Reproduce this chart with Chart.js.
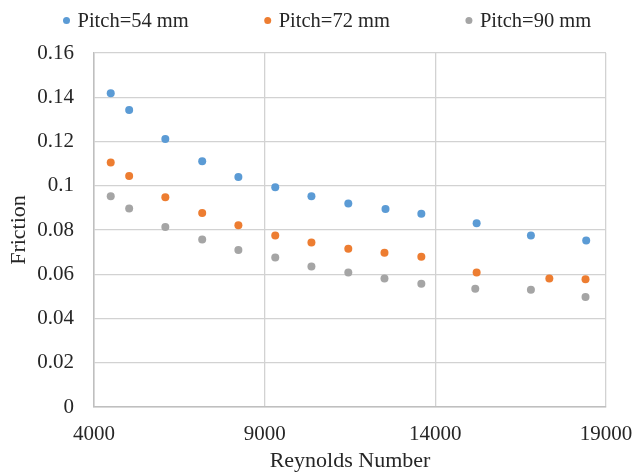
<!DOCTYPE html>
<html>
<head>
<meta charset="utf-8">
<script src="https://cdn.jsdelivr.net/npm/chart.js@4.4.1/dist/chart.umd.min.js"></script>
<style>
  body { margin: 0; background: #ffffff; }
  #wrap { width: 637px; height: 474px; }
</style>
</head>
<body>
<div id="wrap"><canvas id="frictionChart" width="637" height="474"></canvas></div>
<script>
/* --------------- Data ------------------------------------------ */
const seriesNames = ["Pitch=54 mm", "Pitch=72 mm", "Pitch=90 mm"];
const seriesColors = ["#5b9bd5", "#ed7d31", "#a5a5a5"];

const reynolds54 = [4490, 5030, 6090, 7170, 8230, 9310, 10370, 11450, 12540, 13590, 15210, 16800, 18420];
const friction54 = [0.1418, 0.1342, 0.1211, 0.1111, 0.1040, 0.0993, 0.0953, 0.0920, 0.0895, 0.0873, 0.0831, 0.0775, 0.0753];

const reynolds72 = [4490, 5030, 6090, 7170, 8230, 9310, 10370, 11450, 12510, 13590, 15210, 17340, 18400];
const friction72 = [0.1105, 0.1044, 0.0948, 0.0877, 0.0822, 0.0775, 0.0744, 0.0715, 0.0697, 0.0679, 0.0608, 0.0581, 0.0577];

const reynolds90 = [4490, 5030, 6090, 7170, 8230, 9310, 10370, 11450, 12510, 13590, 15170, 16800, 18400];
const friction90 = [0.0953, 0.0897, 0.0813, 0.0757, 0.0710, 0.0676, 0.0635, 0.0608, 0.0581, 0.0557, 0.0534, 0.0530, 0.0497];

const xTicks = [4000, 9000, 14000, 19000];
const yTicks = [0, 0.02, 0.04, 0.06, 0.08, 0.1, 0.12, 0.14, 0.16];

const toPoints = (xs, ys) => xs.map((x, i) => ({ x: x, y: ys[i] }));
const allX = [reynolds54, reynolds72, reynolds90];
const allY = [friction54, friction72, friction90];

const fontFamily = "'Liberation Serif', 'Times New Roman', serif";
const textColor = "#262626";

/* --------------- Legend drawn in one row, like Excel --------------------- */
const rowLegend = {
  id: "rowLegend",
  afterDraw(chart) {
    const ctx = chart.ctx;
    const items = chart.data.datasets;
    const gap = 79;
    const dotToText = 11;
    ctx.save();
    ctx.font = "20.5px " + fontFamily;
    ctx.textBaseline = "middle";
    let x = 66.5;
    const y = 20.5;
    items.forEach((d) => {
      ctx.fillStyle = d.backgroundColor;
      ctx.beginPath();
      ctx.arc(x, y, 3.5, 0, Math.PI * 2);
      ctx.fill();
      ctx.fillStyle = textColor;
      ctx.fillText(d.label, x + dotToText, y + 1);
      x += dotToText + ctx.measureText(d.label).width + gap;
    });
    ctx.restore();
  },
};

/* --------------- Chart --------------------- */
const frictionChart = new Chart(document.getElementById("frictionChart"), {
  type: "scatter",
  plugins: [rowLegend],
  data: {
    datasets: seriesNames.map((name, i) => ({
      label: name,
      data: toPoints(allX[i], allY[i]),
      backgroundColor: seriesColors[i],
      borderWidth: 0,
      pointRadius: 4,
      pointHoverRadius: 4,
    })),
  },
  options: {
    responsive: false,
    animation: false,
    layout: { padding: { top: 53, right: 31, bottom: 0, left: 0 } },
    plugins: {
      legend: { display: false },
      tooltip: { enabled: false },
    },
    scales: {
      x: {
        type: "linear",
        min: 4000,
        max: 19000,
        afterBuildTicks: (scale) => {
          scale.ticks = xTicks.map((v) => ({ value: v }));
        },
        afterFit: (scale) => {
          scale.height = 67;
          scale.paddingLeft = 0;
          scale.paddingRight = 0;
        },
        ticks: {
          padding: 15,
          color: textColor,
          font: { family: fontFamily, size: 21 },
          maxRotation: 0,
          callback: (v) => String(v),
        },
        grid: { color: "#d2d2d2", lineWidth: 1.3, drawTicks: false },
        border: { color: "#bfbfbf", width: 1.5 },
        title: {
          display: true,
          text: "Reynolds Number",
          color: textColor,
          font: { family: fontFamily, size: 22 },
          padding: { top: 3, bottom: 0 },
        },
      },
      y: {
        type: "linear",
        min: 0,
        max: 0.16,
        afterBuildTicks: (scale) => {
          scale.ticks = yTicks.map((v) => ({ value: v }));
        },
        afterFit: (scale) => {
          scale.width = 94;
        },
        ticks: {
          padding: 20,
          color: textColor,
          font: { family: fontFamily, size: 21 },
          callback: (v) => String(+v.toFixed(2)),
        },
        grid: { color: "#d2d2d2", lineWidth: 1.3, drawTicks: false },
        border: { color: "#bfbfbf", width: 1.5 },
        title: {
          display: true,
          text: "Friction",
          color: textColor,
          font: { family: fontFamily, size: 22 },
          padding: { top: 6, bottom: 0 },
        },
      },
    },
  },
});
</script>
</body>
</html>
